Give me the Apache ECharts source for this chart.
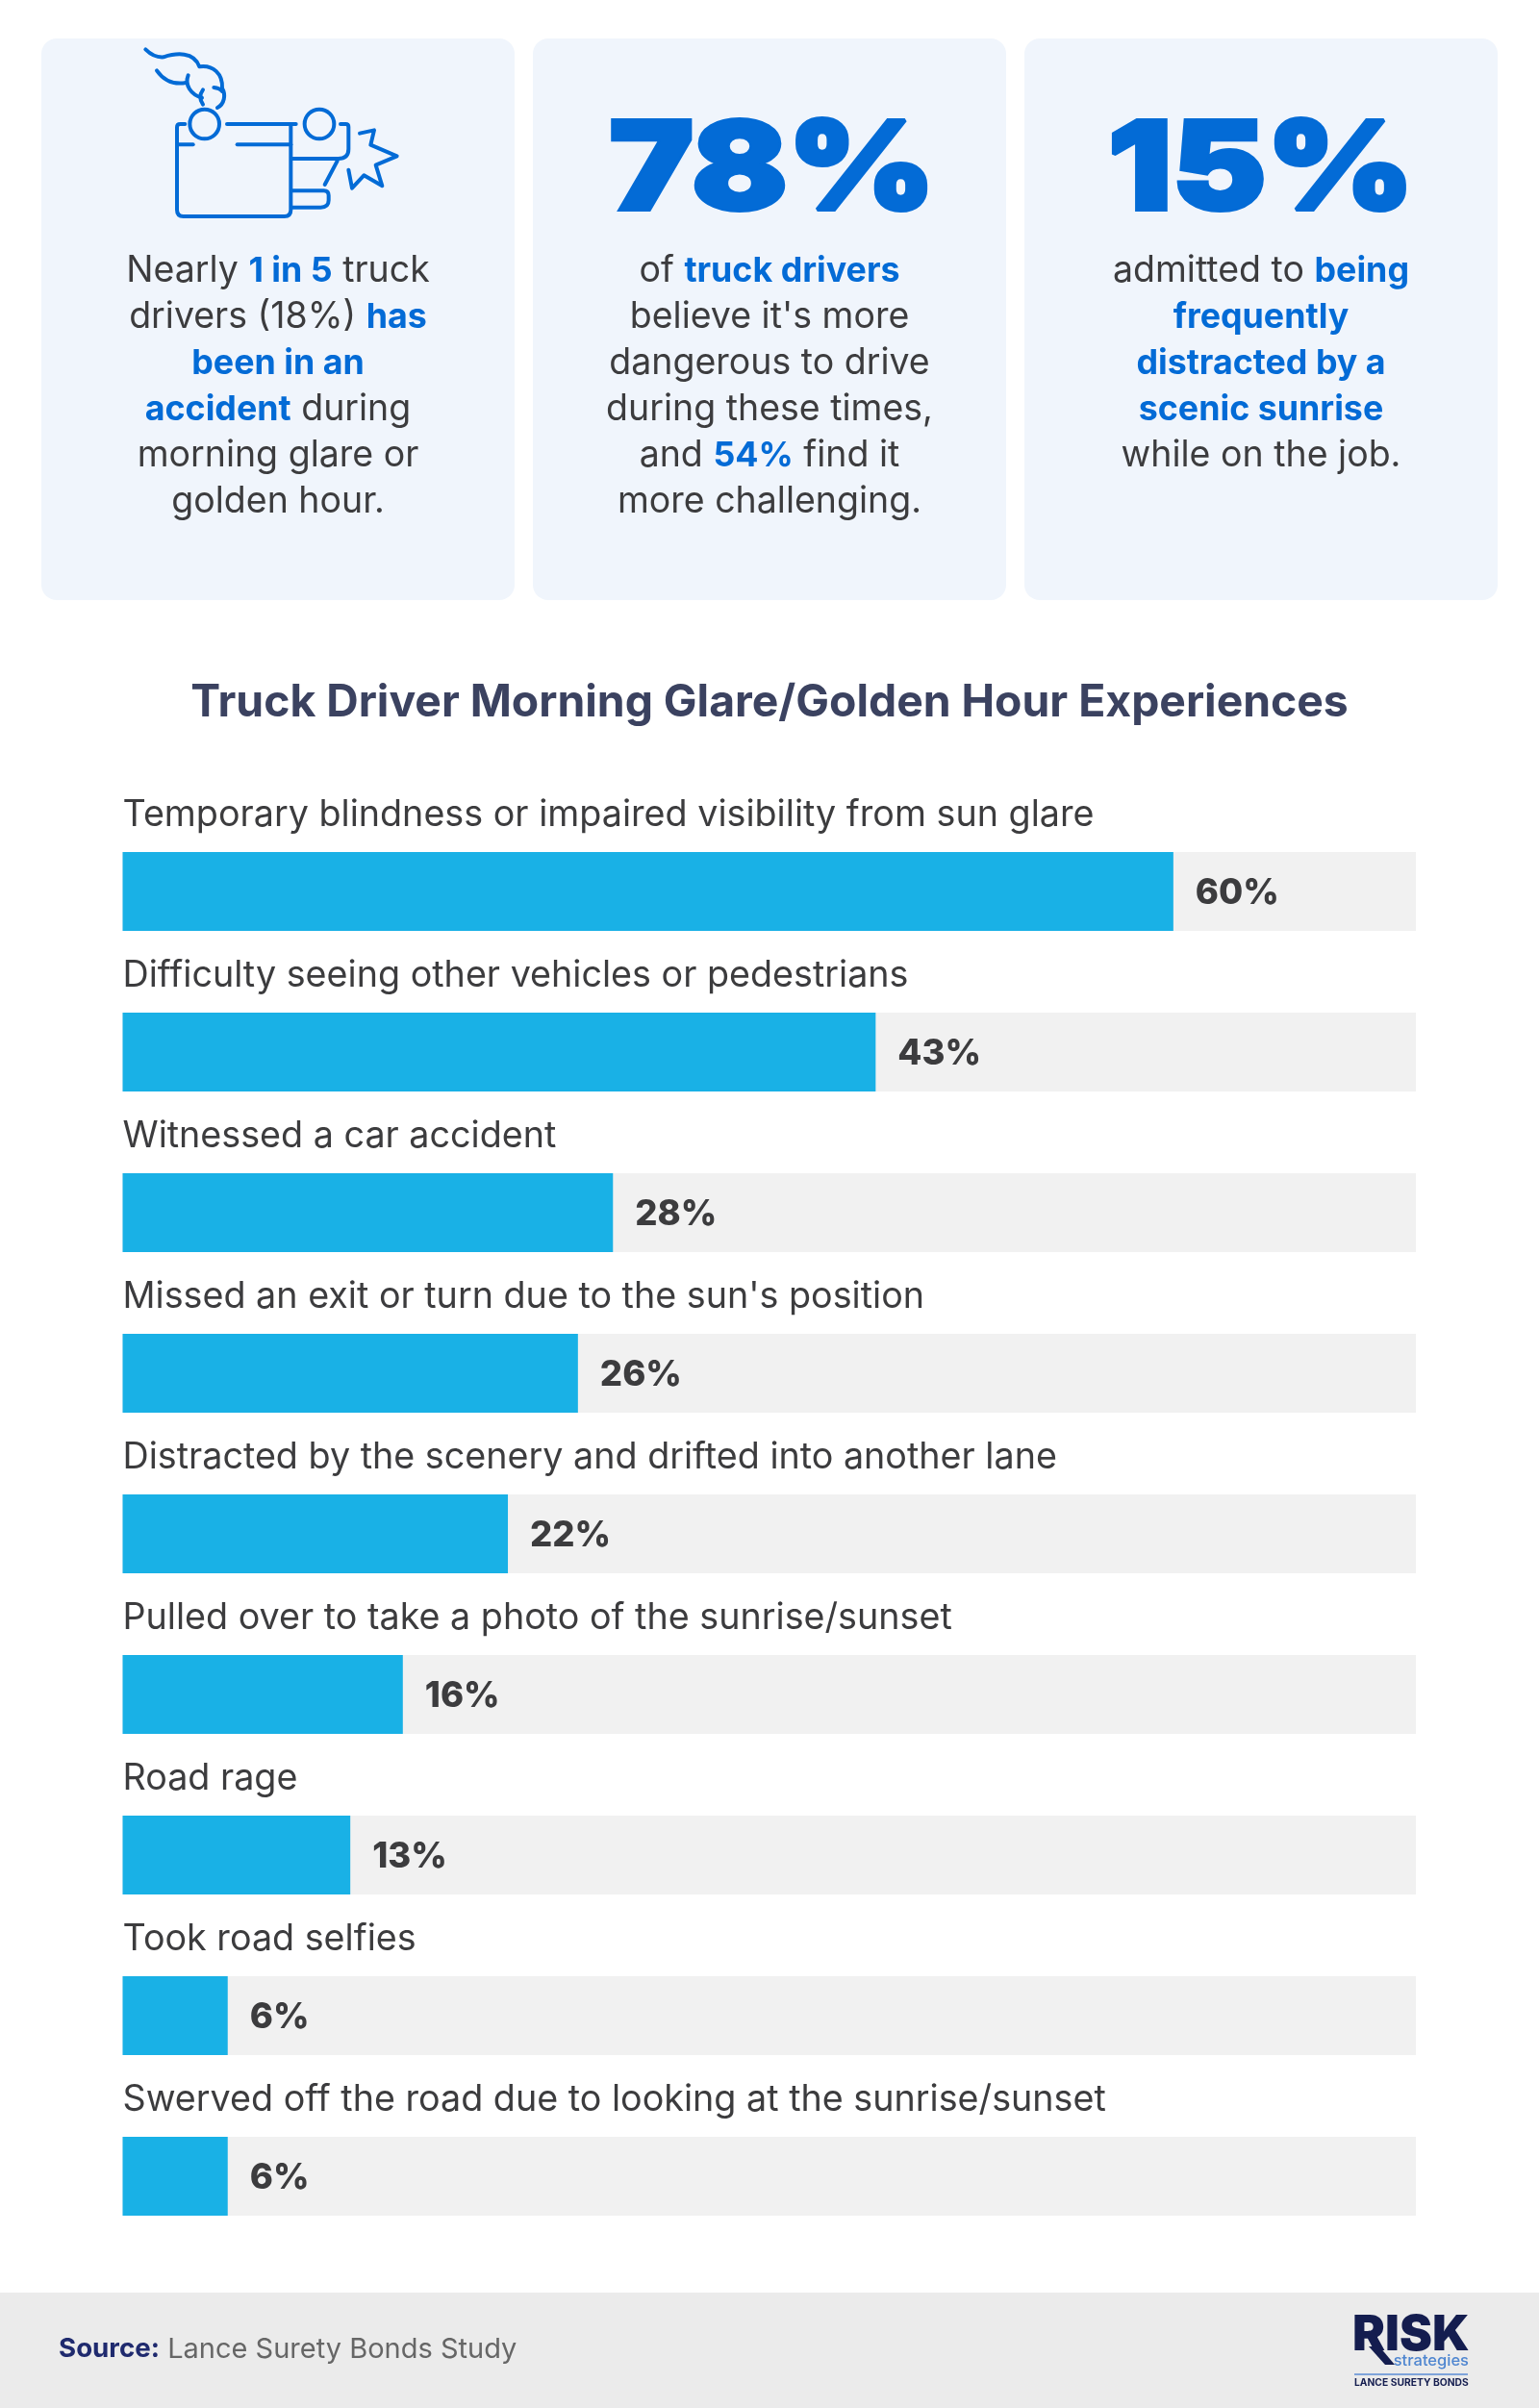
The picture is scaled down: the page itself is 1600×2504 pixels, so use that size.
<!DOCTYPE html>
<html><head><meta charset="utf-8">
<script src="https://cdn.jsdelivr.net/npm/echarts@6/dist/echarts.min.js"></script>
<style>html,body{margin:0;padding:0;background:#fff}#c{width:1600px;height:2504px}</style>
</head><body><div id="c"></div>
<script>
const categories = [
  "Temporary blindness or impaired visibility from sun glare",
  "Difficulty seeing other vehicles or pedestrians",
  "Witnessed a car accident",
  "Missed an exit or turn due to the sun's position",
  "Distracted by the scenery and drifted into another lane",
  "Pulled over to take a photo of the sunrise/sunset",
  "Road rage",
  "Took road selfies",
  "Swerved off the road due to looking at the sunrise/sunset"
];
const values = [60, 43, 28, 26, 22, 16, 13, 6, 6];
const chartTitle = "Truck Driver Morning Glare/Golden Hour Experiences";
const bigStats = ["78%", "15%"];
const card1Text = "{a|Nearly }{b|1 in 5}{a| truck}\n{a|drivers (18%) }{b|has}\n{b|been in an}\n{b|accident}{a| during}\n{a|morning glare or}\n{a|golden hour.}";
const card2Text = "{a|of }{b|truck drivers}\n{a|believe it's more}\n{a|dangerous to drive}\n{a|during these times,}\n{a|and }{b|54%}{a| find it}\n{a|more challenging.}";
const card3Text = "{a|admitted to }{b|being}\n{b|frequently}\n{b|distracted by a}\n{b|scenic sunrise}\n{a|while on the job.}";

const BLUE = '#036bd6', CARD = '#f0f5fc', INK = '#3c3c3e', NAVY = '#141d4f';
const FONT = 'Inter, "Noto Sans", sans-serif';
const rich = {
  a:{font:`400 37.5px ${FONT}`, fill:INK, lineHeight:48},
  b:{font:`700 35.8px ${FONT}`, fill:BLUE, lineHeight:48}
};
function card(x){return {type:'rect',shape:{x,y:40,width:492,height:584,r:16},style:{fill:CARD},z:1};}
function body(cx,text){return {type:'text',x:cx,y:258,z:3,style:{text,rich,align:'center',verticalAlign:'top',font:`400 37.5px ${FONT}`}};}
function big(cx,text){return {type:'text',x:cx,y:180,z:3,scaleX:1.15,style:{text,fill:BLUE,stroke:BLUE,lineWidth:4,font:`900 128px ${FONT}`,align:'center',verticalAlign:'middle'}};}
const iconPaths = [
 'M187 297H172Q162 297 162 307V565Q162 585 182 585H497Q517 585 517 565V297',
 'M318 297H533','M165 361H212','M350 361H517',
 'M294 297A46 46 0 1 1 202 297A46 46 0 1 1 294 297Z',
 'M652 297A46 46 0 1 1 560 297A46 46 0 1 1 652 297Z',
 'M672 297H688Q697 297 697 306V375Q697 405 665 405H520',
 'M662 412L623 486',
 'M520 505H620Q635 505 635 520V535Q635 557 610 557H520',
 'M732 326L777 316L766 362L848 397L782 425L802 490L745 457L708 497L697 440',
 'M64 64Q90 90 120 88C160 75 215 70 232 118C275 112 305 140 303 185C315 205 310 235 288 246',
 'M99 130C120 160 150 175 190 168','M197 145C185 175 205 205 240 215','M243 190C232 205 232 220 243 236','M277 183Q295 185 303 195'
];
iconPaths.forEach((d,i)=>echarts.graphic.registerShape('iconPart'+i, echarts.graphic.extendPath(d,{})));
const icon = {type:'group',x:130,y:30,scaleX:1/3,scaleY:1/3,children:iconPaths.map((d,i)=>({
  type:'iconPart'+i,z:3,style:{fill:'none',stroke:BLUE,lineWidth:12,lineCap:'round',lineJoin:'round'}
}))};

const chart = echarts.init(document.getElementById('c'),null,{renderer:'canvas'});
chart.setOption({
  animation:false,
  backgroundColor:'#fff',
  title:{text:chartTitle,left:'center',top:703,textStyle:{fontFamily:FONT,fontWeight:700,fontSize:46.3,color:'#3b4260'}},
  grid:{left:127.5,top:843.5,width:1344.5,height:1503,containLabel:false},
  xAxis:{type:'value',min:0,max:73.85,show:false},
  yAxis:{type:'category',inverse:true,data:categories,axisLine:{show:false},axisTick:{show:false},splitLine:{show:false},
    axisLabel:{inside:true,margin:0,interval:0,align:'left',verticalAlign:'bottom',lineHeight:158,
      fontFamily:FONT,fontSize:37.7,fontWeight:400,color:INK},z:5},
  series:[{type:'bar',data:values,barWidth:82,showBackground:true,backgroundStyle:{color:'#f1f1f1'},
    itemStyle:{color:'#19b1e6'},
    label:{show:true,position:'right',distance:23,offset:[0,2],formatter:'{c}%',fontFamily:FONT,fontWeight:800,fontSize:36.5,color:INK}}],
  graphic:{elements:[
    card(43),card(554),card(1065),
    icon,
    body(289,card1Text),body(800,card2Text),body(1311,card3Text),
    big(803,bigStats[0]),big(1311,bigStats[1]),
    {type:'rect',shape:{x:0,y:2384,width:1600,height:120},style:{fill:'#ebebeb'},z:1},
    {type:'text',x:61,y:2443,z:3,style:{text:'{s|Source:}{t| Lance Surety Bonds Study}',verticalAlign:'middle',
      rich:{s:{font:`700 27.7px ${FONT}`,fill:'#1f2a6e'},t:{font:`400 29px ${FONT}`,fill:'#666666'}}}},
    {type:'text',x:1406,y:2429,z:3,style:{text:'RISK',font:`900 51px ${FONT}`,fill:NAVY,align:'left',verticalAlign:'middle'}},
    {type:'polygon',z:3,shape:{points:[[1423,2440],[1440,2459],[1450,2459],[1434,2440]]},style:{fill:NAVY}},
    {type:'text',x:1527,y:2455,z:3,style:{text:'strategies',font:`500 16.5px ${FONT}`,fill:'#4f86d0',align:'right',verticalAlign:'middle'}},
    {type:'rect',shape:{x:1408,y:2468,width:118,height:2},style:{fill:'#7fa3da'},z:3},
    {type:'text',x:1408,y:2478,z:3,scaleX:1.03,style:{text:'LANCE SURETY BONDS',font:`700 10px ${FONT}`,fill:NAVY,align:'left',verticalAlign:'middle'}}
  ]}
});
</script></body></html>
